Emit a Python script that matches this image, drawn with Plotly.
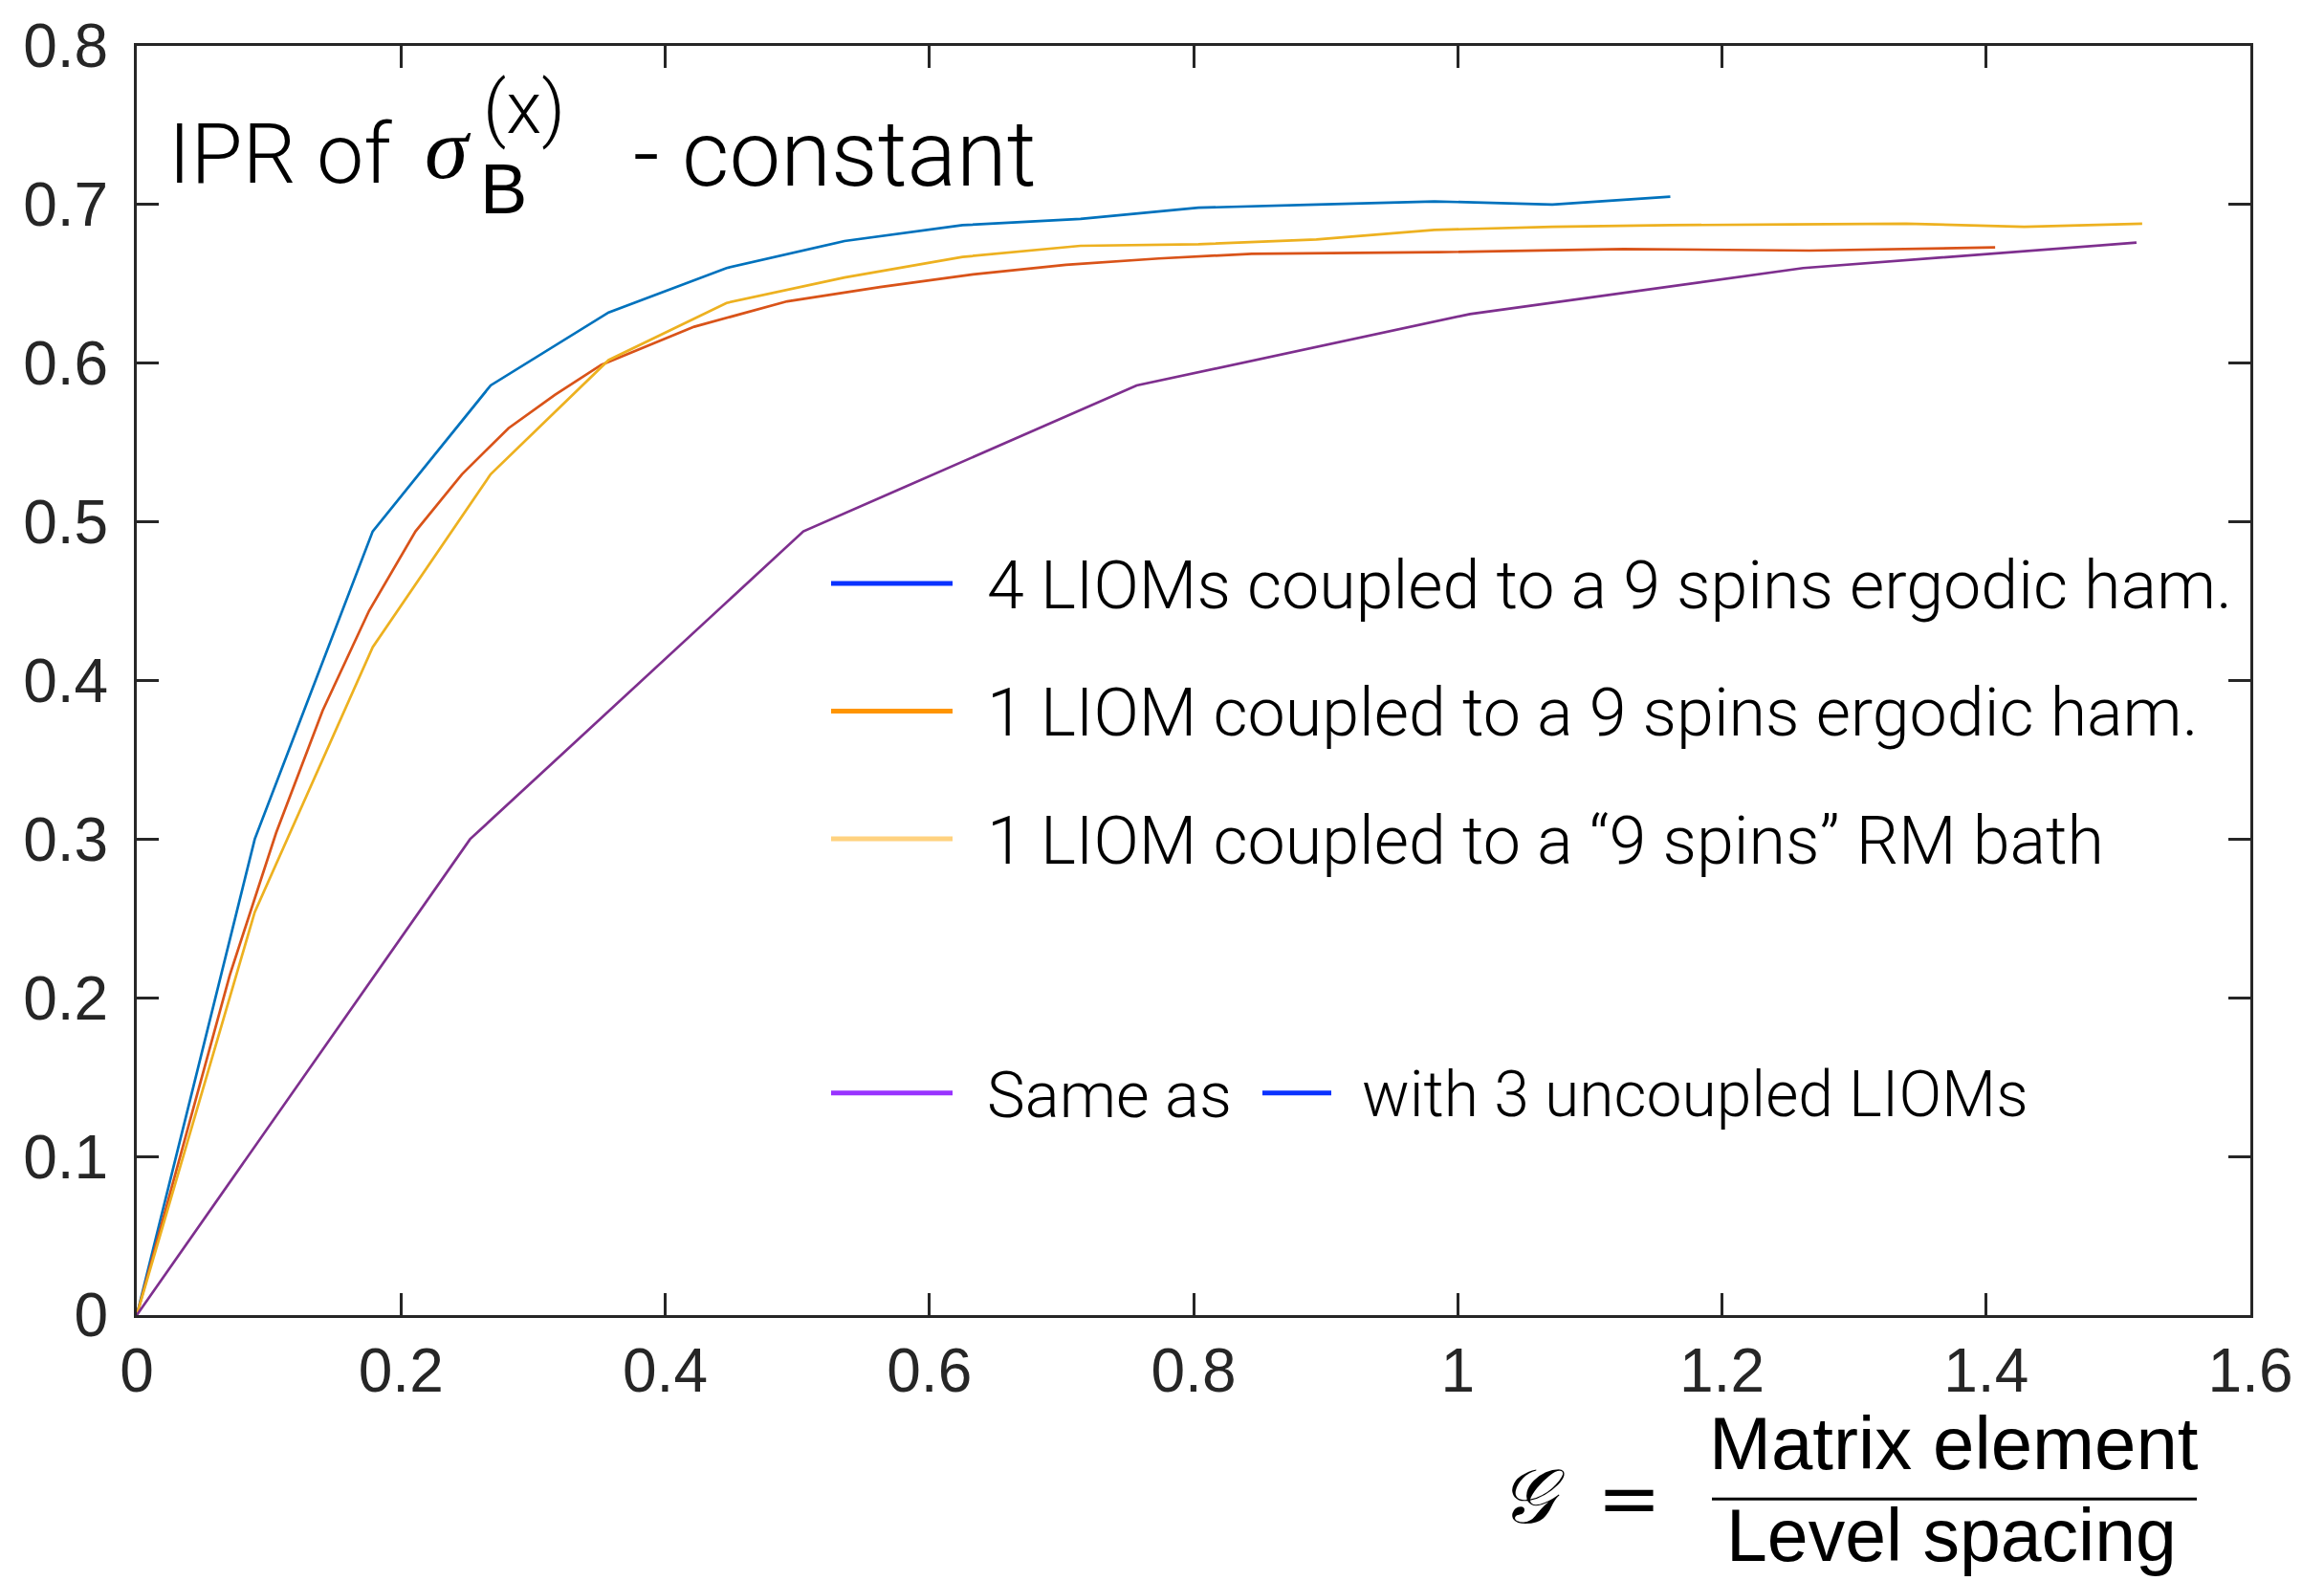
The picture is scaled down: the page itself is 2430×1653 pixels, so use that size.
import plotly.graph_objects as go

# ---- data -------------------------------------------------------------
g_four_lioms = [0, 0.0893, 0.1786, 0.2679, 0.3572, 0.4465, 0.5358, 0.6251,
                0.7144, 0.8037, 0.8930, 0.9823, 1.0716, 1.1609]
ipr_four_lioms = [0, 0.300, 0.494, 0.586, 0.632, 0.660, 0.677, 0.687,
                  0.691, 0.698, 0.700, 0.702, 0.700, 0.705]

g_one_liom = [0, 0.0352, 0.0703, 0.1055, 0.1407, 0.1759, 0.2110, 0.2462,
              0.2814, 0.3165, 0.3517, 0.4220, 0.4924, 0.5627, 0.6331, 0.7034,
              0.7738, 0.8441, 0.9848, 1.1255, 1.2662, 1.4068]
ipr_one_liom = [0, 0.107, 0.214, 0.304, 0.381, 0.444, 0.494, 0.530,
                0.559, 0.580, 0.599, 0.623, 0.639, 0.648, 0.656, 0.662,
                0.666, 0.669, 0.670, 0.672, 0.671, 0.673]

g_rm_bath = [0, 0.0893, 0.1786, 0.2679, 0.3572, 0.4465, 0.5358, 0.6251,
             0.7144, 0.8037, 0.8930, 0.9823, 1.0716, 1.1609, 1.2502, 1.3395,
             1.4288, 1.5181]
ipr_rm_bath = [0, 0.254, 0.421, 0.530, 0.602, 0.638, 0.654, 0.667,
               0.674, 0.675, 0.678, 0.684, 0.686, 0.687, 0.6875, 0.688,
               0.686, 0.688]

g_uncoupled = [0, 0.2523, 0.5046, 0.7569, 1.0092, 1.2615, 1.5138]
ipr_uncoupled = [0, 0.300, 0.494, 0.586, 0.631, 0.660, 0.676]

x_ticks = [0, 0.2, 0.4, 0.6, 0.8, 1.0, 1.2, 1.4, 1.6]
y_ticks = [0, 0.1, 0.2, 0.3, 0.4, 0.5, 0.6, 0.7, 0.8]

legend_labels = [
    "4 LIOMs coupled to a 9 spins ergodic ham.",
    "1 LIOM coupled to a 9 spins ergodic ham.",
    "1 LIOM coupled to a \u201c9 spins\u201d RM bath",
    "Same as",
]
legend_tail = "with 3 uncoupled LIOMs"

# ---- figure geometry (pixels) ----------------------------------------
W, H = 2430, 1653
ML, MR, MT, MB = 143, 77, 43, 278
PW, PH = W - ML - MR, H - MT - MB

def px(X):
    return (X - ML) / PW

def py(Y):
    return (H - MB - Y) / PH

AXIS = "#262626"
LIGHT = dict(family="Roboto", weight=300, color="black")

fig = go.Figure()
series = [
    (g_four_lioms, ipr_four_lioms, "#0072BD"),
    (g_one_liom, ipr_one_liom, "#D95319"),
    (g_rm_bath, ipr_rm_bath, "#EDB120"),
    (g_uncoupled, ipr_uncoupled, "#7E2F8E"),
]
for gx, gy, col in series:
    fig.add_trace(go.Scatter(x=gx, y=gy, mode="lines",
                             line=dict(color=col, width=2.7),
                             showlegend=False, hoverinfo="skip"))

axis_common = dict(showline=True, linecolor=AXIS, linewidth=3, mirror="allticks",
                   ticks="inside", ticklen=23, tickwidth=3, tickcolor=AXIS,
                   showgrid=False, zeroline=False,
                   tickfont=dict(family="Liberation Sans", size=64, color=AXIS))
fig.update_xaxes(range=[0, 1.6], tickvals=x_ticks, ticklabelstandoff=0, **axis_common)
fig.update_yaxes(range=[0, 0.8], tickvals=y_ticks, ticklabelstandoff=14, **axis_common)

shapes = []
annotations = []

# hand-drawn legend
legend_colors = ["#0A32FF", "#FF9500", "#FFD27F", "#9933FF"]
legend_rows_y = [607, 741, 875, 1142]
legend_sizes = [70, 70, 70, 67]
for lab, col, Y, fs in zip(legend_labels, legend_colors, legend_rows_y, legend_sizes):
    shapes.append(dict(type="line", xref="paper", yref="paper",
                       x0=px(869), x1=px(996), y0=py(Y), y1=py(Y),
                       line=dict(color=col, width=5)))
    annotations.append(dict(text=lab, xref="paper", yref="paper",
                            x=px(1030), y=py(Y + 2), xanchor="left", yanchor="middle",
                            showarrow=False, font=dict(size=fs, **LIGHT)))
shapes.append(dict(type="line", xref="paper", yref="paper",
                   x0=px(1320), x1=px(1392), y0=py(1142), y1=py(1142),
                   line=dict(color="#0A32FF", width=5)))
annotations.append(dict(text=legend_tail, xref="paper", yref="paper",
                        x=px(1422), y=py(1144), xanchor="left", yanchor="middle",
                        showarrow=False, font=dict(size=66, **LIGHT)))

# in-plot title: IPR of sigma_B^(x) - constant
annotations += [
    dict(text="IPR of", x=px(174), y=py(156), xanchor="left", yanchor="middle",
         font=dict(size=88, **LIGHT)),
    dict(text="<i>\u03c3</i>", x=px(442), y=py(150), xanchor="left", yanchor="middle",
         font=dict(family="Liberation Serif", size=92, color="black")),
    dict(text="(x)", x=px(503), y=py(108), xanchor="left", yanchor="middle",
         font=dict(size=76, **LIGHT)),
    dict(text="B", x=px(500), y=py(193), xanchor="left", yanchor="middle",
         font=dict(family="Liberation Sans", size=74, color="black")),
    dict(text="- constant", x=px(660), y=py(156), xanchor="left", yanchor="middle",
         font=dict(size=96, **LIGHT)),
]

# x-axis label: G = Matrix element / Level spacing
annotations += [
    dict(text="<i>\U0001D4A2</i>", x=px(1602), y=py(1565), xanchor="center", yanchor="middle",
         font=dict(family="DejaVu Serif", size=80, color="black")),
    dict(text="=", x=px(1703), y=py(1567), xanchor="center", yanchor="middle",
         font=dict(family="DejaVu Serif", size=80, color="black")),
    dict(text="Matrix element", x=px(2043), y=py(1510), xanchor="center", yanchor="middle",
         font=dict(family="Liberation Sans", size=78, color="black")),
    dict(text="Level spacing", x=px(2041), y=py(1606), xanchor="center", yanchor="middle",
         font=dict(family="Liberation Sans", size=77, color="black")),
]
shapes.append(dict(type="line", xref="paper", yref="paper",
                   x0=px(1790), x1=px(2297), y0=py(1568), y1=py(1568),
                   line=dict(color="black", width=3)))

for a in annotations:
    a.setdefault("xref", "paper")
    a.setdefault("yref", "paper")
    a["showarrow"] = False

fig.update_layout(width=W, height=H, autosize=False,
                  margin=dict(l=ML, r=MR, t=MT, b=MB),
                  paper_bgcolor="white", plot_bgcolor="white",
                  shapes=shapes, annotations=annotations)

fig.write_html("out.html")
